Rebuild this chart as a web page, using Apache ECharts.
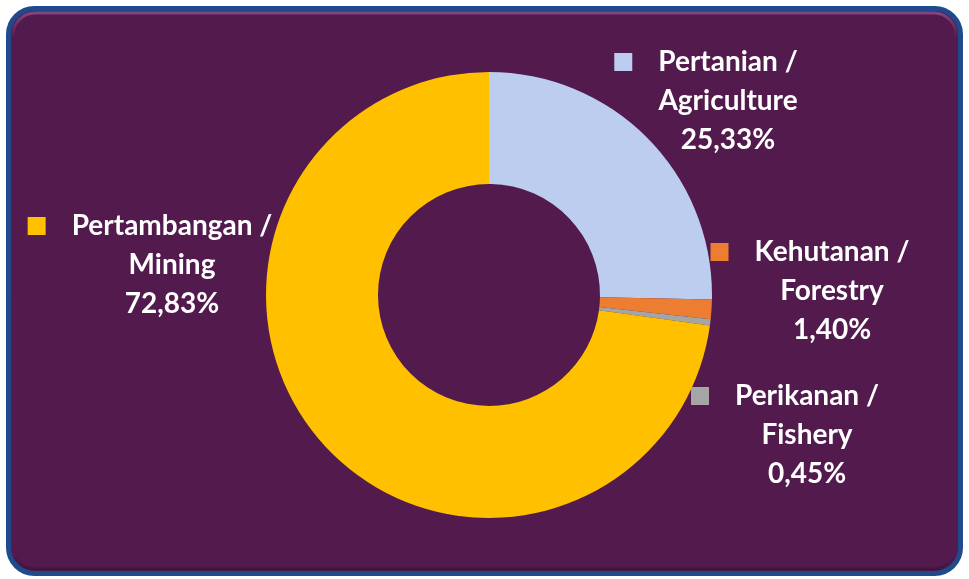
<!DOCTYPE html>
<html><head><meta charset="utf-8">
<script src="https://cdn.jsdelivr.net/npm/echarts@6/dist/echarts.min.js"></script>
<style>html,body{margin:0;padding:0;background:#fff;}#c{width:969px;height:579px;}</style>
</head><body><div id="c"></div>
<script>
const namesId = ['Pertanian /', 'Kehutanan /', 'Perikanan /', 'Pertambangan /'];
const namesEn = ['Agriculture', 'Forestry', 'Fishery', 'Mining'];
const values = [25.33, 1.40, 0.45, 72.83];
const colors = ['#BDCDF0', '#ED7D31', '#A5A5A5', '#FFC000'];

// label anchor (center x, middle-line y)
const labelPos = [[728, 101], [832, 291], [807, 435], [172, 265]];

const chart = echarts.init(document.getElementById('c'), null, {renderer: 'canvas'});
const FONT = 'Lato';
const rich = {
  gap: {width: 26},
  pad: {width: 44},
  t: {color: '#fff', fontFamily: FONT, fontWeight: 'bold', fontSize: 28, lineHeight: 39}
};
colors.forEach((c, i) => { rich['sq' + i] = {width: 18, height: 18, backgroundColor: c}; });

chart.setOption({
  animation: false,
  graphic: [{
    type: 'rect', z: -10,
    shape: {x: 8.5, y: 8.5, width: 952, height: 565, r: 26},
    style: {fill: '#521A4D', stroke: '#1F4A8C', lineWidth: 5}
  }, {
    type: 'rect', z: -9,
    shape: {x: 13, y: 13, width: 943, height: 556, r: 22},
    style: {fill: 'none', stroke: new echarts.graphic.LinearGradient(0, 0, 0, 1, [
      {offset: 0, color: 'rgba(200,130,200,0.45)'},
      {offset: 0.05, color: 'rgba(200,130,200,0.0)'},
      {offset: 0.97, color: 'rgba(0,0,0,0.0)'},
      {offset: 1, color: 'rgba(0,0,0,0.25)'}]), lineWidth: 3}
  }],
  series: [{
    type: 'pie',
    center: [489, 295],
    radius: [111, 223],
    startAngle: 90,
    clockwise: true,
    avoidLabelOverlap: false,
    data: values.map((v, i) => ({
      value: v, name: namesEn[i],
      itemStyle: {color: colors[i]},
      label: {
        formatter: '{sq' + i + '|}{gap|}{t|' + namesId[i] + '}{pad|}\n{t|' + namesEn[i] + '}\n{t|' + v.toFixed(2).replace('.', ',') + '%}'
      }
    })),
    itemStyle: {borderWidth: 0},
    label: {show: true, position: 'outside', rich: rich, align: 'center'},
    labelLine: {show: false},
    labelLayout: function (p) {
      const pos = labelPos[p.dataIndex];
      return {x: pos[0], y: pos[1], align: 'center', verticalAlign: 'middle', moveOverlap: false};
    },
    emphasis: {disabled: true}
  }]
});
</script></body></html>
